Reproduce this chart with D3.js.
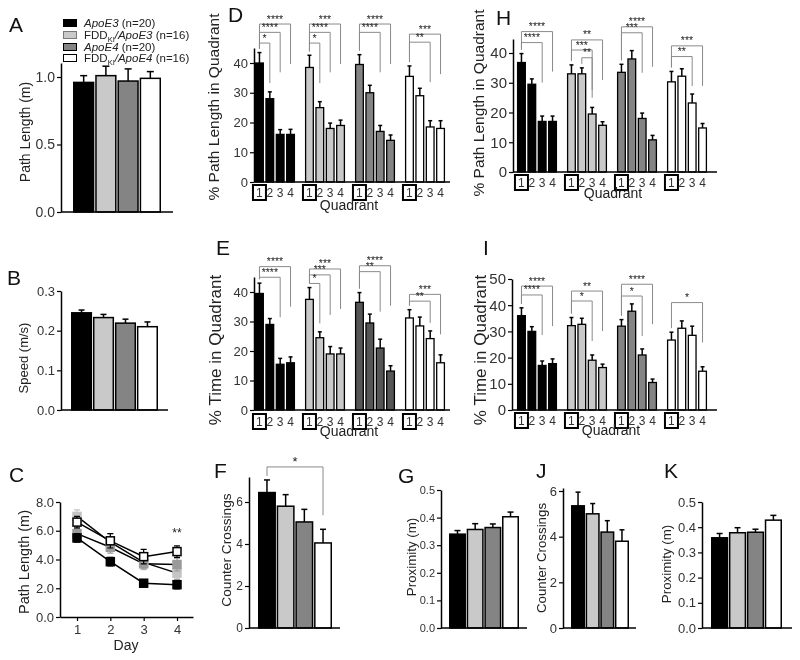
<!DOCTYPE html>
<html><head><meta charset="utf-8">
<script src="https://cdn.jsdelivr.net/npm/d3@7"></script>
<style>body{margin:0;background:#fff} svg{filter:grayscale(1)}</style>
</head><body><svg id="c" width="800" height="660"></svg>
<script>
// ---------------- DATA ----------------
const groups = ["ApoE3", "FDDKI/ApoE3", "ApoE4", "FDDKI/ApoE4"];
const legendN = ["(n=20)", "(n=16)", "(n=20)", "(n=16)"];
const quadrants = ["1", "2", "3", "4"];
const days = [1, 2, 3, 4];

const ticksA = [0, 0.5, 1.0];
const pathLengthA = [0.96, 1.01, 0.97, 0.99];
const pathLengthAErr = [0.05, 0.07, 0.09, 0.05];

const ticksB = [0, 0.1, 0.2, 0.3];
const speedB = [0.245, 0.233, 0.219, 0.210];
const speedBErr = [0.007, 0.008, 0.010, 0.012];

const ticksC = [0, 2, 4, 6, 8];
const dayApoE3 = [5.5, 3.85, 2.35, 2.25];
const dayApoE3Err = [0.3, 0.3, 0.2, 0.3];
const dayFddApoE3 = [7.0, 5.2, 3.8, 3.05];
const dayFddApoE3Err = [0.45, 0.6, 0.5, 0.4];
const dayApoE4 = [5.8, 4.85, 3.7, 3.65];
const dayApoE4Err = [0.35, 0.4, 0.35, 0.45];
const dayFddApoE4 = [6.6, 5.3, 4.2, 4.55];
const dayFddApoE4Err = [0.4, 0.5, 0.5, 0.4];
const sigC = [[4, 5.55, "**"]];

const ticksQuad = [0, 10, 20, 30, 40];
const ticksQuadI = [0, 10, 20, 30, 40, 50];

const quadD = [[40, 28, 16, 16], [38.5, 25, 18, 19], [39.5, 30, 17, 14], [35.5, 29, 18.5, 18]];
const quadDErr = [[3.5, 2.3, 1.6, 1.7], [4.1, 2.0, 1.8, 1.8], [3.3, 2.5, 2.0, 1.8], [3.5, 2.5, 2.1, 2.6]];
// [group, fromQuadrant, toQuadrant, bracket height, label]
const sigD = [[0, 0, 3, 53.1, "****"], [0, 0, 2, 50.3, "****"], [0, 0, 1, 46.7, "*"],
              [1, 0, 3, 53.1, "***"], [1, 0, 2, 50.3, "****"], [1, 0, 1, 46.7, "*"],
              [2, 0, 3, 53.1, "****"], [2, 0, 2, 50.3, "****"],
              [3, 0, 3, 49.7, "***"], [3, 0, 2, 47.0, "**"]];

const quadE = [[39.5, 29, 15.5, 16], [37.5, 24.5, 19, 19], [36.5, 29.5, 21, 13.2], [31.2, 28.5, 24.2, 16]];
const quadEErr = [[3.5, 2.0, 2.0, 2.0], [4.0, 2.0, 2.5, 2.0], [3.3, 3.0, 3.0, 1.8], [2.8, 3.0, 2.6, 2.7]];
const sigE = [[0, 0, 3, 48.6, "****"], [0, 0, 2, 45.0, "****"],
              [1, 0, 3, 47.8, "***"], [1, 0, 2, 45.8, "***"], [1, 0, 1, 42.9, "*"],
              [2, 0, 3, 48.9, "****"], [2, 0, 2, 46.9, "**"],
              [3, 0, 3, 39.2, "***"], [3, 0, 2, 36.9, "**"]];

const quadH = [[36.8, 29.5, 17, 17], [33, 33, 19.5, 15.7], [33.5, 38, 18, 10.8], [30.3, 32.2, 23.2, 14.8]];
const quadHErr = [[3.0, 1.8, 1.8, 1.8], [3.0, 2.0, 2.2, 1.2], [2.7, 2.8, 1.8, 1.5], [3.5, 2.5, 3.0, 1.5]];
const sigH = [[0, 0, 3, 47.2, "****"], [0, 0, 2, 43.5, "****"],
              [1, 0, 3, 44.4, "**"], [1, 0, 2, 41.0, "***"], [1, 1, 2, 38.4, "**"],
              [2, 0, 3, 48.8, "****"], [2, 0, 2, 46.8, "***"],
              [3, 0, 3, 42.4, "***"], [3, 0, 2, 38.8, "**"]];

const quadI = [[36, 30, 17, 17.7], [32.2, 32.7, 19, 16.2], [32, 37.7, 21, 10.5], [26.7, 31.2, 28.5, 14.8]];
const quadIErr = [[3.0, 1.8, 1.7, 1.8], [3.1, 2.3, 2.0, 1.3], [2.5, 2.8, 2.3, 1.3], [3.0, 2.8, 3.5, 1.7]];
const sigI = [[0, 0, 3, 47.3, "****"], [0, 0, 2, 43.9, "****"],
              [1, 0, 3, 45.4, "**"], [1, 0, 2, 41.6, "*"],
              [2, 0, 3, 48.0, "****"], [2, 0, 2, 43.5, "*"],
              [3, 0, 3, 41.0, "*"]];

const ticksF = [0, 2, 4, 6];
const crossF = [6.45, 5.8, 5.05, 4.05];
const crossFErr = [0.6, 0.55, 0.6, 0.65];
const sigF = [[0, 3, 7.67, "*"]];

const ticksG = [0, 0.1, 0.2, 0.3, 0.4, 0.5];
const proxG = [0.34, 0.357, 0.364, 0.403];
const proxGErr = [0.013, 0.021, 0.013, 0.017];

const ticksJ = [0, 2, 4, 6];
const crossJ = [5.35, 5.0, 4.2, 3.8];
const crossJErr = [0.6, 0.45, 0.5, 0.5];

const ticksK = [0, 0.1, 0.2, 0.3, 0.4, 0.5];
const proxK = [0.358, 0.378, 0.38, 0.428];
const proxKErr = [0.017, 0.02, 0.012, 0.019];

// ---------------- STYLE ----------------
const FONT = "'Liberation Sans', Arial, Helvetica, sans-serif";
const fills = ["#000000", "#c9c9c9", "#848484", "#ffffff"];
const fillsE = ["#000000", "#c9c9c9", "#555555", "#ffffff"];
const svg = d3.select("#c").style("font-family", FONT);

function panelLetter(t, x, y) {
  svg.append("text").attr("x", x).attr("y", y).attr("font-size", 21).attr("fill", "#111").text(t);
}
function yLabel(t, x, y, size) {
  svg.append("text").attr("transform", `translate(${x},${y}) rotate(-90)`)
    .attr("text-anchor", "middle").attr("dominant-baseline", "middle")
    .attr("font-size", size).attr("fill", "#222").text(t);
}
function makeY(y0, tv, tpx, top) {
  const s = d3.scaleLinear().domain([0, tv]).range([y0, tpx]);
  return s.copy().domain([0, s.invert(top)]).range([y0, top]);
}
function leftAxis(y, x, ticks, fmt, size) {
  const g = svg.append("g").attr("transform", `translate(${x},0)`)
    .call(d3.axisLeft(y).tickValues(ticks).tickSize(4).tickSizeOuter(0).tickFormat(fmt));
  g.attr("font-family", FONT);
  g.select(".domain").attr("stroke", "#000").attr("stroke-width", 1.5);
  g.selectAll(".tick line").attr("stroke", "#000").attr("stroke-width", 1.2);
  g.selectAll(".tick text").attr("font-size", size).attr("fill", "#333").attr("x", -6);
  return g;
}
function baseLine(x0, x1, y) {
  svg.append("line").attr("x1", x0).attr("x2", x1).attr("y1", y).attr("y2", y)
    .attr("stroke", "#000").attr("stroke-width", 1.5);
}
function errBar(xc, yTop, yBar, cap) {
  svg.append("line").attr("x1", xc).attr("x2", xc).attr("y1", yBar).attr("y2", yTop)
    .attr("stroke", "#000").attr("stroke-width", 1.5);
  svg.append("line").attr("x1", xc - cap / 2).attr("x2", xc + cap / 2).attr("y1", yTop).attr("y2", yTop)
    .attr("stroke", "#000").attr("stroke-width", 1.5);
}

function simpleBars(c) {
  const y = makeY(c.y0, c.tv, c.tpx, c.top);
  const x = d3.scaleBand().domain(groups).range([c.b0, c.b1]).paddingInner(0.04);
  svg.append("g").selectAll("rect").data(c.vals).join("rect")
    .attr("x", (d, i) => x(groups[i]) + 0.75).attr("width", x.bandwidth() - 1.5)
    .attr("y", d => y(d)).attr("height", d => c.y0 - y(d))
    .attr("fill", (d, i) => fills[i]).attr("stroke", "#000").attr("stroke-width", 1.5);
  c.vals.forEach((v, i) => errBar(x(groups[i]) + x.bandwidth() / 2, y(v + c.errs[i]), y(v), c.cap || 6));
  leftAxis(y, c.ax, c.ticks, c.fmt, c.tsize);
  baseLine(c.ax, c.ax1, c.y0);
  if (c.sig) c.sig.forEach(s => {
    const xa = x(groups[s[0]]) + x.bandwidth() / 2, xb = x(groups[s[1]]) + x.bandwidth() / 2;
    const yy = y(s[2]);
    const ya = y(c.vals[s[0]] + c.errs[s[0]]) - 4, yb = y(c.vals[s[1]] + c.errs[s[1]]) - 14;
    svg.append("path").attr("d", `M${xa},${ya}V${yy}H${xb}V${yb}`).attr("fill", "none")
      .attr("stroke", "#8a8a8a").attr("stroke-width", 1);
    svg.append("text").attr("x", (xa + xb) / 2).attr("y", yy - 1).attr("text-anchor", "middle")
      .attr("font-size", 13).attr("fill", "#222").text(s[3]);
  });
}

function quadPanel(c) {
  const y = makeY(c.y0, c.tv, c.tpx, c.top);
  const gx = d3.scaleBand().domain(d3.range(4)).range([c.g0, c.g1]).paddingInner(0.2).paddingOuter(0);
  const qx = d3.scaleBand().domain(quadrants).range([0, gx.bandwidth()]).paddingInner(0.14);
  const cx = (g, q) => gx(g) + qx(quadrants[q]) + qx.bandwidth() / 2;
  c.data.forEach((row, g) => {
    row.forEach((v, q) => {
      svg.append("rect").attr("x", gx(g) + qx(quadrants[q]) + 0.6).attr("width", qx.bandwidth() - 1.2)
        .attr("y", y(v)).attr("height", c.y0 - y(v))
        .attr("fill", c.colors[g]).attr("stroke", "#000").attr("stroke-width", 1.3);
      errBar(cx(g, q), y(v + c.err[g][q]), y(v), 4);
      svg.append("text").attr("x", cx(g, q)).attr("y", c.numY).attr("text-anchor", "middle")
        .attr("font-size", 12).attr("fill", "#333").text(quadrants[q]);
    });
    svg.append("rect").attr("x", cx(g, 0) - 6.5).attr("y", c.numY - 12).attr("width", 13).attr("height", 15)
      .attr("fill", "none").attr("stroke", "#000").attr("stroke-width", 2);
  });
  c.sig.forEach(s => {
    const [g, a, b, h, lab] = s;
    const xa = cx(g, a), xb = cx(g, b), yy = y(h);
    const ya = y(c.data[g][a] + c.err[g][a]) - 4;
    const yb = Math.min(y(c.data[g][b] + c.err[g][b]) - 8, yy + 40);
    svg.append("path").attr("d", `M${xa},${ya}V${yy}H${xb}V${yb}`).attr("fill", "none")
      .attr("stroke", "#8a8a8a").attr("stroke-width", 1);
    svg.append("text").attr("x", (xa + xb) / 2).attr("y", yy - 1.5).attr("text-anchor", "middle")
      .attr("font-size", 10.5).attr("fill", "#222").text(lab);
  });
  leftAxis(y, c.ax, c.ticks, d3.format("d"), c.tsize);
  baseLine(c.ax, c.ax1, c.y0);
  svg.append("text").attr("x", c.qx).attr("y", c.qy).attr("text-anchor", "middle")
    .attr("font-size", 14).attr("fill", "#222").text("Quadrant");
}

// ---------------- PANEL A ----------------
panelLetter("A", 9, 32);
const legY = [23, 35, 47, 58];
groups.forEach((gname, i) => {
  svg.append("rect").attr("x", 63.5).attr("y", legY[i] - 3.5).attr("width", 13).attr("height", 7)
    .attr("fill", fills[i]).attr("stroke", i === 1 ? "#777" : "#000").attr("stroke-width", 1);
  const t = svg.append("text").attr("x", 84).attr("y", legY[i] + 4).attr("font-size", 11.5).attr("fill", "#222");
  if (gname.startsWith("FDDKI/")) {
    t.append("tspan").text("FDD");
    t.append("tspan").attr("font-size", 7.5).attr("dy", 2.5).text("KI");
    t.append("tspan").attr("dy", -2.5).attr("font-style", "italic").text("/" + gname.slice(6));
  } else {
    t.append("tspan").attr("font-style", "italic").text(gname);
  }
  t.append("tspan").text(" " + legendN[i]);
});
simpleBars({vals: pathLengthA, errs: pathLengthAErr, y0: 212, tv: 1.0, tpx: 77, top: 63,
  b0: 73, b1: 161, ax: 61, ax1: 173, ticks: ticksA, fmt: d3.format(".1f"), tsize: 14, cap: 7});
yLabel("Path Length (m)", 26, 132, 14);

// ---------------- PANEL B ----------------
panelLetter("B", 7, 285);
simpleBars({vals: speedB, errs: speedBErr, y0: 410, tv: 0.3, tpx: 291, top: 291,
  b0: 71, b1: 158, ax: 61, ax1: 168, ticks: ticksB, fmt: d3.format(".1f"), tsize: 13, cap: 6});
yLabel("Speed (m/s)", 25, 358, 13);

// ---------------- PANEL C ----------------
panelLetter("C", 9, 482);
{
  const y = makeY(617, 8, 502, 502);
  const xs = d3.scaleLinear().domain([1, 4]).range([77, 177]);
  const xa = xs.copy().domain([xs.invert(60), xs.invert(193)]).range([60, 193]);
  leftAxis(y, 60, ticksC, d3.format(".1f"), 13);
  const gx = svg.append("g").attr("transform", "translate(0,617)")
    .call(d3.axisBottom(xa).tickValues(days).tickSize(4).tickSizeOuter(0).tickFormat(d3.format("d")));
  gx.attr("font-family", FONT);
  gx.select(".domain").attr("stroke", "#000").attr("stroke-width", 1.5);
  gx.selectAll(".tick line").attr("stroke", "#000").attr("stroke-width", 1.2);
  gx.selectAll(".tick text").attr("font-size", 13).attr("fill", "#333").attr("y", 8);
  svg.append("text").attr("x", 126).attr("y", 650).attr("text-anchor", "middle").attr("font-size", 14).attr("fill", "#222").text("Day");
  const series = [
    {v: dayFddApoE3, e: dayFddApoE3Err, fill: "#c4c4c4", stroke: "#c4c4c4", ec: "#c4c4c4"},
    {v: dayApoE4, e: dayApoE4Err, fill: "#9a9a9a", stroke: "#9a9a9a", ec: "#9a9a9a"},
    {v: dayFddApoE4, e: dayFddApoE4Err, fill: "#ffffff", stroke: "#000", ec: "#000"},
    {v: dayApoE3, e: dayApoE3Err, fill: "#000", stroke: "#000", ec: "#000"}
  ];
  const line = d3.line().x((d, i) => xs(days[i])).y(d => y(d));
  series.forEach(s => {
    svg.append("path").attr("d", line(s.v)).attr("fill", "none").attr("stroke", "#000").attr("stroke-width", 1.5);
  });
  series.forEach(s => {
    s.v.forEach((v, i) => {
      const xc = xs(days[i]);
      svg.append("path").attr("d", `M${xc},${y(v - s.e[i])}V${y(v + s.e[i])}M${xc - 3},${y(v - s.e[i])}H${xc + 3}M${xc - 3},${y(v + s.e[i])}H${xc + 3}`)
        .attr("stroke", s.ec).attr("stroke-width", 1.2).attr("fill", "none");
      svg.append("rect").attr("x", xc - 4).attr("y", y(v) - 4).attr("width", 8).attr("height", 8)
        .attr("fill", s.fill).attr("stroke", s.stroke).attr("stroke-width", 1.5);
    });
  });
  sigC.forEach(s => svg.append("text").attr("x", xs(s[0])).attr("y", y(s[1])).attr("text-anchor", "middle")
    .attr("font-size", 12).attr("fill", "#222").text(s[2]));
}
yLabel("Path Length (m)", 25, 562, 14.5);

// ---------------- PANEL D ----------------
panelLetter("D", 228, 22);
quadPanel({data: quadD, err: quadDErr, sig: sigD, y0: 182, tv: 40, tpx: 63, top: 48,
  g0: 255, g1: 445, ax: 254, ax1: 450, ticks: ticksQuad, tsize: 13, colors: fills,
  numY: 197, qx: 349, qy: 210});
yLabel("% Path Length in Quadrant", 215, 107, 15.5);

// ---------------- PANEL E ----------------
panelLetter("E", 216, 255);
quadPanel({data: quadE, err: quadEErr, sig: sigE, y0: 410, tv: 40, tpx: 292, top: 277,
  g0: 255, g1: 445, ax: 254, ax1: 450, ticks: ticksQuad, tsize: 13, colors: fillsE,
  numY: 426, qx: 349, qy: 436});
yLabel("% Time in Quadrant", 217, 350, 17);

// ---------------- PANEL H ----------------
panelLetter("H", 496, 25);
quadPanel({data: quadH, err: quadHErr, sig: sigH, y0: 172, tv: 40, tpx: 53, top: 39,
  g0: 517, g1: 707, ax: 513, ax1: 717, ticks: ticksQuad, tsize: 15, colors: fills,
  numY: 187, qx: 613, qy: 198});
yLabel("% Path Length in Quadrant", 480, 103, 15.5);

// ---------------- PANEL I ----------------
panelLetter("I", 483, 255);
quadPanel({data: quadI, err: quadIErr, sig: sigI, y0: 410, tv: 50, tpx: 279, top: 279,
  g0: 517, g1: 707, ax: 512, ax1: 717, ticks: ticksQuadI, tsize: 15, colors: fills,
  numY: 425, qx: 611, qy: 435});
yLabel("% Time in Quadrant", 482, 350, 17);

// ---------------- PANEL F ----------------
panelLetter("F", 214, 478);
simpleBars({vals: crossF, errs: crossFErr, y0: 628, tv: 6, tpx: 502, top: 477,
  b0: 258, b1: 332, ax: 249, ax1: 340, ticks: ticksF, fmt: d3.format("d"), tsize: 12, cap: 6, sig: sigF});
yLabel("Counter Crossings", 227, 550, 13.7);

// ---------------- PANEL G ----------------
panelLetter("G", 398, 483);
simpleBars({vals: proxG, errs: proxGErr, y0: 628, tv: 0.5, tpx: 490, top: 490,
  b0: 449, b1: 519, ax: 441, ax1: 527, ticks: ticksG, fmt: d3.format(".1f"), tsize: 11, cap: 6});
yLabel("Proximity (m)", 412, 557, 13.3);

// ---------------- PANEL J ----------------
panelLetter("J", 536, 478);
simpleBars({vals: crossJ, errs: crossJErr, y0: 628, tv: 6, tpx: 491, top: 488,
  b0: 571, b1: 629, ax: 563, ax1: 636, ticks: ticksJ, fmt: d3.format("d"), tsize: 13, cap: 5});
yLabel("Counter Crossings", 542, 558, 13.3);

// ---------------- PANEL K ----------------
panelLetter("K", 664, 478);
simpleBars({vals: proxK, errs: proxKErr, y0: 628, tv: 0.5, tpx: 502, top: 502,
  b0: 711, b1: 782, ax: 702, ax1: 792, ticks: ticksK, fmt: d3.format(".1f"), tsize: 13, cap: 6});
yLabel("Proximity (m)", 667, 564, 13.3);
</script></body></html>
